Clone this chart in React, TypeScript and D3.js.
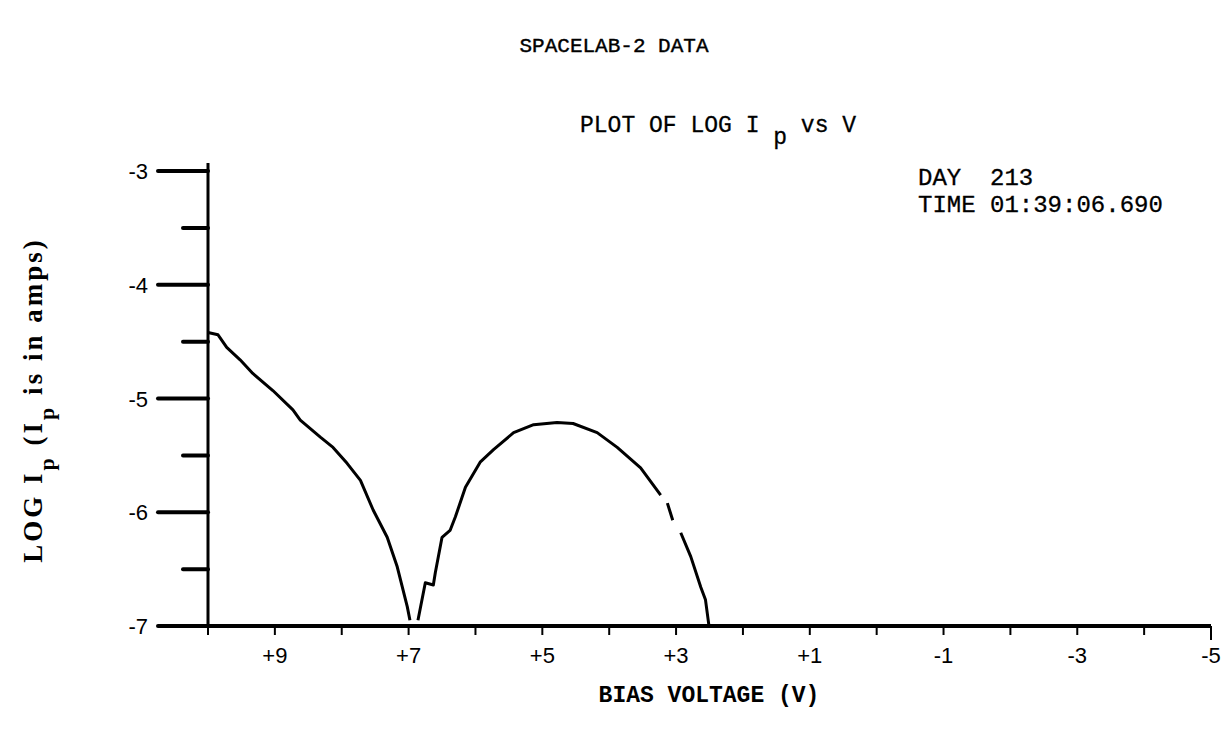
import React, { useEffect, useRef } from 'react';
import * as d3 from 'd3';

// bias voltage (V) and log of probe current
const voltageLeft = [10.0, 9.85, 9.72, 9.52, 9.33, 9.03, 8.73, 8.62, 8.32, 8.13, 7.92, 7.72, 7.53, 7.32, 7.17, 7.02, 6.98];
const logCurrentLeft = [-4.42, -4.44, -4.55, -4.66, -4.78, -4.93, -5.1, -5.19, -5.34, -5.43, -5.57, -5.72, -5.98, -6.22, -6.48, -6.83, -6.95];

// second branch, null = gap in the trace
const voltageRight = [6.86, 6.75, 6.63, 6.6, 6.5, 6.38, 6.3, 6.15, 5.93, 5.73, 5.43, 5.13, 4.78, 4.54, 4.18, 3.88, 3.53, 3.23, 3.18, 3.13, 3.05, 2.99, 2.93, 2.78, 2.63, 2.56, 2.51];
const logCurrentRight = [-6.95, -6.62, -6.64, -6.53, -6.22, -6.16, -6.04, -5.78, -5.56, -5.45, -5.3, -5.23, -5.21, -5.22, -5.3, -5.43, -5.61, -5.85, null, -5.92, -6.07, null, -6.18, -6.39, -6.66, -6.77, -6.99];

const xTicks = [10, 9, 8, 7, 6, 5, 4, 3, 2, 1, 0, -1, -2, -3, -4, -5];
const xLabels = [9, 7, 5, 3, 1, -1, -3, -5];
const yMajor = [-3, -4, -5, -6, -7];
const yMinor = [-3.5, -4.5, -5.5, -6.5];

const W = 1228;
const H = 738;
const mono = '"Liberation Mono", "DejaVu Sans Mono", monospace';
const sans = '"Liberation Sans", Arial, sans-serif';

export default function App() {
  const svgRef = useRef<SVGSVGElement | null>(null);

  useEffect(() => {
    const svg = d3.select(svgRef.current).attr('width', W).attr('height', H);
    svg.selectAll('*').remove();

    const x = d3.scaleLinear().domain([10, -5]).range([208, 1211]);
    const y = d3.scaleLinear().domain([-7, -3]).range([626, 171]);

    svg.append('rect').attr('width', W).attr('height', H).attr('fill', '#fff');

    // titles
    svg.append('text')
      .attr('x', 614).attr('y', 52)
      .attr('text-anchor', 'middle')
      .attr('font-family', mono).attr('font-size', 21)
      .attr('stroke', '#000').attr('stroke-width', 0.4)
      .text('SPACELAB-2 DATA');

    const plot = svg.append('text')
      .attr('x', 580).attr('y', 132)
      .attr('font-family', mono).attr('font-size', 23)
      .attr('stroke', '#000').attr('stroke-width', 0.3);
    plot.append('tspan').text('PLOT OF LOG I ');
    plot.append('tspan').attr('dy', 12).text('p');
    plot.append('tspan').attr('dy', -12).text(' vs V');

    const note = svg.append('g')
      .attr('font-family', mono).attr('font-size', 24)
      .attr('stroke', '#000').attr('stroke-width', 0.3);
    note.append('text').attr('x', 918).attr('y', 185).text('DAY\u00a0\u00a0213');
    note.append('text').attr('x', 918).attr('y', 212).text('TIME 01:39:06.690');

    // y axis
    svg.append('line')
      .attr('x1', 208).attr('x2', 208)
      .attr('y1', y(-3) - 8).attr('y2', y(-7))
      .attr('stroke', '#000').attr('stroke-width', 3);

    svg.selectAll('.ymaj').data(yMajor).join('line')
      .attr('x1', 158).attr('x2', 208)
      .attr('y1', d => y(d)).attr('y2', d => y(d))
      .attr('stroke', '#000').attr('stroke-width', 4).attr('stroke-linecap', 'round');

    svg.selectAll('.ymin').data(yMinor).join('line')
      .attr('x1', 183).attr('x2', 208)
      .attr('y1', d => y(d)).attr('y2', d => y(d))
      .attr('stroke', '#000').attr('stroke-width', 4).attr('stroke-linecap', 'round');

    svg.selectAll('.ylab').data(yMajor).join('text')
      .attr('x', 148).attr('y', d => y(d) + 8)
      .attr('text-anchor', 'end')
      .attr('font-family', sans).attr('font-size', 22)
      .text(d => `-${Math.abs(d)}`);

    // x axis
    svg.append('line')
      .attr('x1', 158).attr('x2', x(-5))
      .attr('y1', y(-7)).attr('y2', y(-7))
      .attr('stroke', '#000').attr('stroke-width', 4);

    svg.selectAll('.xtick').data(xTicks).join('line')
      .attr('x1', d => x(d)).attr('x2', d => x(d))
      .attr('y1', y(-7)).attr('y2', d => y(-7) + (d === -5 ? 14 : 9))
      .attr('stroke', '#000').attr('stroke-width', 2);

    svg.selectAll('.xlab').data(xLabels).join('text')
      .attr('x', d => x(d)).attr('y', 663)
      .attr('text-anchor', 'middle')
      .attr('font-family', sans).attr('font-size', 22)
      .text(d => (d > 0 ? `+${d}` : `-${Math.abs(d)}`));

    svg.append('text')
      .attr('x', 709).attr('y', 702)
      .attr('text-anchor', 'middle')
      .attr('font-family', mono).attr('font-size', 23).attr('font-weight', 'bold')
      .text('BIAS VOLTAGE (V)');

    // y label, rotated
    const yl = svg.append('text')
      .attr('transform', 'translate(42,400) rotate(-90)')
      .attr('text-anchor', 'middle')
      .attr('font-family', '"Liberation Serif", serif').attr('font-size', 27)
      .attr('font-weight', 'bold').attr('letter-spacing', 3);
    yl.append('tspan').text('LOG I');
    yl.append('tspan').attr('dy', 12).attr('font-size', 22).text('p');
    yl.append('tspan').attr('dy', -12).text(' (I');
    yl.append('tspan').attr('dy', 12).attr('font-size', 22).text('p');
    yl.append('tspan').attr('dy', -12).text(' is in amps)');

    // trace
    const line = d3.line<[number, number | null]>()
      .defined(d => d[1] !== null)
      .x(d => x(d[0]))
      .y(d => y(d[1] as number));

    const left = voltageLeft.map((v, i) => [v, logCurrentLeft[i]] as [number, number | null]);
    const right = voltageRight.map((v, i) => [v, logCurrentRight[i]] as [number, number | null]);

    [left, right].forEach(seg => {
      svg.append('path')
        .datum(seg)
        .attr('fill', 'none')
        .attr('stroke', '#000')
        .attr('stroke-width', 3)
        .attr('stroke-linejoin', 'round')
        .attr('d', line);
    });
  }, []);

  return (
    <div style={{ position: 'absolute', left: 0, top: 0 }}>
      <svg ref={svgRef}></svg>
    </div>
  );
}
